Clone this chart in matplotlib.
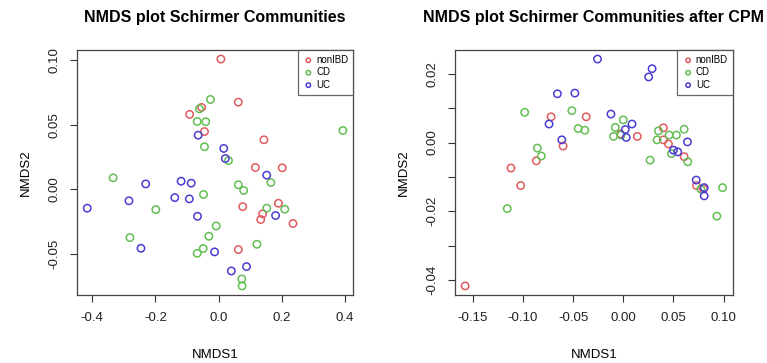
import matplotlib
matplotlib.use("Agg")
from matplotlib import pyplot as plt
import numpy as np

plt.rcParams['font.family'] = ['Liberation Sans', 'DejaVu Sans']

groups = ['nonIBD', 'CD', 'UC']
colors = {'nonIBD': '#E05A5E', 'CD': '#62BE52', 'UC': '#4A3DD2'}

# ---- raw NMDS scores ----
raw_nonibd_x = [0.007, 0.062, -0.054, -0.092, -0.045, 0.143, 0.116, 0.201, 0.076, 0.189, 0.139, 0.133, 0.235, 0.062]
raw_nonibd_y = [0.1009, 0.0675, 0.0634, 0.058, 0.0447, 0.0383, 0.0168, 0.0166, -0.0135, -0.0109, -0.0191, -0.0235, -0.0266, -0.0468]
raw_cd_x = [-0.026, -0.061, -0.068, -0.041, 0.393, -0.045, 0.031, -0.334, 0.062, 0.079, 0.165, -0.048,
            -0.199, 0.152, 0.209, -0.008, -0.031, -0.281, -0.049, -0.068, 0.121, 0.073, 0.074]
raw_cd_y = [0.0696, 0.0623, 0.0525, 0.0523, 0.0455, 0.0329, 0.0222, 0.0088, 0.0034, -0.001, 0.0052, -0.0041,
            -0.0158, -0.0147, -0.0155, -0.0285, -0.0365, -0.0375, -0.046, -0.0497, -0.0427, -0.0696, -0.075]
raw_uc_x = [-0.065, 0.016, 0.021, 0.152, -0.231, -0.119, -0.087, -0.139, -0.093, -0.284, -0.416, -0.067,
            0.180, -0.246, -0.013, 0.088, 0.040]
raw_uc_y = [0.0419, 0.0316, 0.0238, 0.0109, 0.0041, 0.0062, 0.0047, -0.0065, -0.0075, -0.009, -0.0147, -0.021,
            -0.0204, -0.0458, -0.0486, -0.060, -0.0634]

# ---- NMDS scores after CPM ----
cpm_nonibd_x = [-0.1577, -0.112, -0.1023, -0.0867, -0.072, -0.060, -0.037, -0.0027, 0.014, 0.040, 0.040, 0.045,
                0.0607, 0.073, 0.080]
cpm_nonibd_y = [-0.0417, -0.0074, -0.0125, -0.0053, 0.0075, -0.001, 0.0075, 0.0025, 0.0018, 0.0043, 0.0008,
                -0.0004, -0.0041, -0.0125, -0.0135]
cpm_cd_x = [-0.0983, -0.1157, -0.0857, -0.0817, -0.0513, -0.045, -0.0383, -0.008, -0.0097, 0.000, -0.0023,
            0.0267, 0.035, 0.0337, 0.0457, 0.053, 0.0607, 0.048, 0.0643, 0.0773, 0.099, 0.0933]
cpm_cd_y = [0.0088, -0.0192, -0.0016, -0.0039, 0.0093, 0.0041, 0.0036, 0.0044, 0.0018, 0.0066, 0.0022,
            -0.0051, 0.0034, 0.0008, 0.0022, 0.0022, 0.0039, -0.0032, -0.0056, -0.0135, -0.0131, -0.0214]
cpm_uc_x = [-0.0257, 0.0287, 0.0253, -0.0657, -0.0483, -0.0123, -0.074, -0.0613, 0.0087, 0.002, 0.003,
            0.064, 0.050, 0.0543, 0.0727, 0.0807, 0.0807]
cpm_uc_y = [0.0243, 0.0215, 0.0191, 0.0142, 0.0144, 0.0083, 0.0054, 0.0008, 0.0054, 0.0038, 0.0015,
            0.0002, -0.0022, -0.0027, -0.0109, -0.0131, -0.0155]

raw = {'nonIBD': (raw_nonibd_x, raw_nonibd_y), 'CD': (raw_cd_x, raw_cd_y), 'UC': (raw_uc_x, raw_uc_y)}
cpm = {'nonIBD': (cpm_nonibd_x, cpm_nonibd_y), 'CD': (cpm_cd_x, cpm_cd_y), 'UC': (cpm_uc_x, cpm_uc_y)}

left_xticks = [-0.4, -0.2, 0.0, 0.2, 0.4]
left_yticks = [-0.05, 0.00, 0.05, 0.10]
right_xticks = [-0.15, -0.10, -0.05, 0.00, 0.05, 0.10]
right_yticks = [-0.04, -0.03, -0.02, -0.01, 0.00, 0.01, 0.02]


def nmds_panel(ax, data, title, xticks, yticks, xfmt, yfmt, ylabel_every=1):
    for g in groups:
        x, y = data[g]
        ax.scatter(x, y, s=28, facecolors='none', edgecolors=colors[g], linewidths=1.1, label=g)
    ax.margins(0.04)
    ax.set_xticks(xticks)
    ax.set_xticklabels([xfmt.format(v) for v in xticks])
    ax.set_yticks(yticks)
    ylabels = [yfmt.format(v) if i % ylabel_every == 0 else '' for i, v in enumerate(yticks)]
    ax.set_yticklabels(ylabels, rotation=90, va='center')
    ax.tick_params(direction='out', length=5, width=0.8, colors='#333333', labelsize=9.5, pad=7)
    for t in ax.get_xticklabels() + ax.get_yticklabels():
        t.set_color('#222222')
    for s in ax.spines.values():
        s.set_color('#444444')
        s.set_linewidth(0.9)
    ax.set_xlabel('NMDS1', fontsize=9.5, labelpad=18)
    ax.set_ylabel('NMDS2', fontsize=9.5, labelpad=12)
    ax.set_title(title, fontsize=11.5, fontweight='bold', pad=20)
    leg = ax.legend(loc='upper right', frameon=True, fancybox=False, fontsize=7,
                    handletextpad=0.2, borderpad=0.5, labelspacing=0.25,
                    handlelength=1.2, borderaxespad=0, scatterpoints=1,
                    markerscale=0.6)
    leg.get_frame().set_edgecolor('#444444')
    leg.get_frame().set_linewidth(0.9)


fig = plt.figure(figsize=(7.67, 3.63), dpi=100)
ax1 = fig.add_axes([0.1004, 0.1873, 0.360, 0.675])
ax2 = fig.add_axes([0.593, 0.1873, 0.3625, 0.675])

nmds_panel(ax1, raw, 'NMDS plot Schirmer Communities', left_xticks, left_yticks, '{:.1f}', '{:.2f}')
nmds_panel(ax2, cpm, 'NMDS plot Schirmer Communities after CPM', right_xticks, right_yticks, '{:.2f}', '{:.2f}',
           ylabel_every=2)

fig.savefig('out.png', dpi=100)
